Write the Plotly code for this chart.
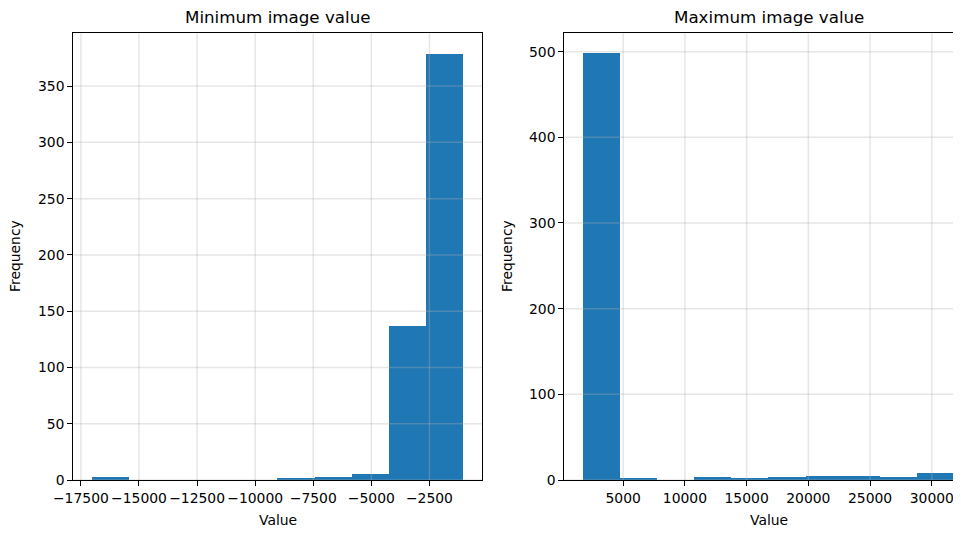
import numpy as np
import plotly.graph_objects as go

# ---- data ----
min_title = "Minimum image value"
max_title = "Maximum image value"
min_lo, min_hi = -17027, -1037
min_counts = [2, 0, 0, 0, 0, 1, 2, 5, 137, 378]
max_lo, max_hi = 1737, 31830
max_counts = [498, 1, 0, 3, 2, 3, 4, 4, 3, 8]

min_xticks = [-17500, -15000, -12500, -10000, -7500, -5000, -2500]
min_yticks = [0, 50, 100, 150, 200, 250, 300, 350]
max_xticks = [5000, 10000, 15000, 20000, 25000, 30000]
max_yticks = [0, 100, 200, 300, 400, 500]

PAGE_W, PAGE_H = 961, 534
OFF = 8  # default body margin of the html page
W, H = PAGE_W - OFF, PAGE_H - OFF
BLUE = "#1f77b4"
FONT = "DejaVu Sans"
GRID = "rgba(176,176,176,0.32)"


def fx(px):
    return (px - OFF) / W


def fy(py):
    return 1 - (py - OFF) / H


def bins(lo, hi, counts):
    n = len(counts)
    w = (hi - lo) / n
    centers = [lo + w * (i + 0.5) for i in range(n)]
    return centers, w


fig = go.Figure()

c1, w1 = bins(min_lo, min_hi, min_counts)
c2, w2 = bins(max_lo, max_hi, max_counts)

fig.add_trace(go.Bar(x=c1, y=min_counts, width=w1, marker=dict(color=BLUE, line=dict(width=0)),
                     xaxis="x", yaxis="y", showlegend=False))
fig.add_trace(go.Bar(x=c2, y=max_counts, width=w2, marker=dict(color=BLUE, line=dict(width=0)),
                     xaxis="x2", yaxis="y2", showlegend=False))

# ranges with matplotlib-like 5% x margins, sticky zero for y
m1 = (min_hi - min_lo) * 0.05
m2 = (max_hi - max_lo) * 0.05
x1_range = [min_lo - m1, min_hi + m1]
y1_range = [0, max(min_counts) * 1.05]

# right axes extends beyond canvas in reference: keep only visible part
L1, R1 = 73.3, 482.0
L2, R2_full = 564.3, 973.0
TOP, BOT = 33.3, 480.0
x2_full = [max_lo - m2, max_hi + m2]
x2_range = [x2_full[0], x2_full[0] + (x2_full[1] - x2_full[0]) * (PAGE_W - L2) / (R2_full - L2)]
y2_range = [0, max(max_counts) * 1.047]

ydom = [fy(BOT), fy(TOP)]
x1dom = [fx(L1), fx(R1)]
x2dom = [fx(L2), 1.0]

tickfont = dict(family=FONT, size=13.9, color="#000000")
axis_common = dict(showline=True, linecolor="#000000", linewidth=1.1, ticks="outside",
                   ticklen=5, tickwidth=1.1, tickcolor="#000000", showgrid=False,
                   zeroline=False, tickfont=tickfont, fixedrange=True, automargin=False,
                   tickangle=0)


def fmt(v):
    return ("\u2212" + str(abs(v))) if v < 0 else str(v)


fig.update_layout(
    width=W, height=H,
    margin=dict(l=0, r=0, t=0, b=0),
    paper_bgcolor="white", plot_bgcolor="white",
    bargap=0,
    font=dict(family=FONT, size=13.9, color="#000000"),
    xaxis=dict(domain=x1dom, range=x1_range, anchor="y", mirror=True,
               tickvals=min_xticks, ticktext=[fmt(v) for v in min_xticks], **axis_common),
    yaxis=dict(domain=ydom, range=y1_range, anchor="x", mirror=True,
               tickvals=min_yticks, ticktext=[fmt(v) for v in min_yticks], **axis_common),
    xaxis2=dict(domain=x2dom, range=x2_range, anchor="y2", mirror=True,
                tickvals=max_xticks, ticktext=[fmt(v) for v in max_xticks], **axis_common),
    yaxis2=dict(domain=ydom, range=y2_range, anchor="x2", mirror=False,
                tickvals=max_yticks, ticktext=[fmt(v) for v in max_yticks], **axis_common),
)

# grid lines drawn above bars (as in reference)
shapes = []
for v in min_xticks:
    shapes.append(dict(type="line", xref="x", yref="y domain", x0=v, x1=v, y0=0, y1=1,
                       line=dict(color=GRID, width=1.5), layer="above"))
for v in min_yticks:
    shapes.append(dict(type="line", xref="x domain", yref="y", x0=0, x1=1, y0=v, y1=v,
                       line=dict(color=GRID, width=1.5), layer="above"))
for v in max_xticks:
    shapes.append(dict(type="line", xref="x2", yref="y2 domain", x0=v, x1=v, y0=0, y1=1,
                       line=dict(color=GRID, width=1.5), layer="above"))
for v in max_yticks:
    shapes.append(dict(type="line", xref="x2 domain", yref="y2", x0=0, x1=1, y0=v, y1=v,
                       line=dict(color=GRID, width=1.5), layer="above"))
fig.update_layout(shapes=shapes)


def ann(text, xpx, ypx, size, angle=0):
    fig.add_annotation(text=text, x=fx(xpx), y=fy(ypx), xref="paper", yref="paper",
                       showarrow=False, textangle=angle,
                       font=dict(family=FONT, size=size, color="#000000"),
                       xanchor="center", yanchor="middle")


# subplot titles
ann(min_title, (L1 + R1) / 2, 17, 16.7)
ann(max_title, (L2 + R2_full) / 2, 17, 16.7)
# axis titles
ann("Value", (L1 + R1) / 2, 520, 13.9)
ann("Value", (L2 + R2_full) / 2, 520, 13.9)
ann("Frequency", 15, 256, 13.9, -90)
ann("Frequency", 507, 256, 13.9, -90)

fig.write_html("out.html")
